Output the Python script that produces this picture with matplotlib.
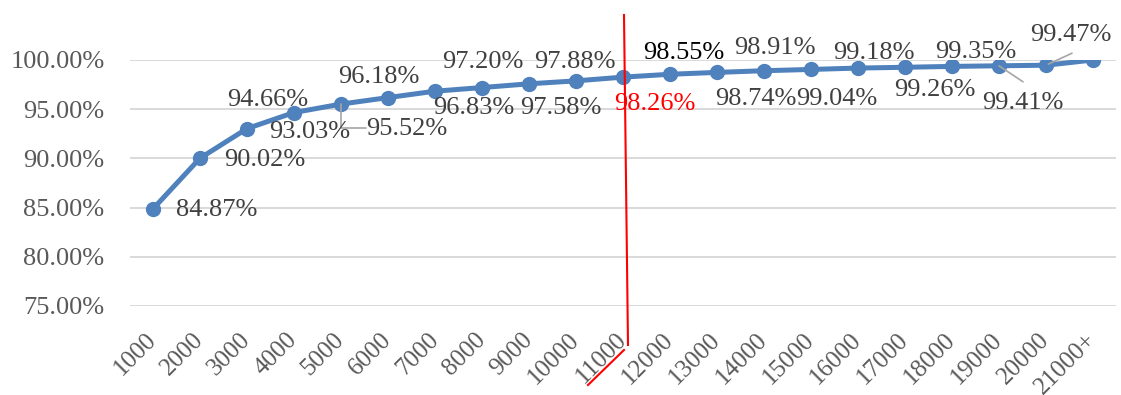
import matplotlib
matplotlib.use("Agg")
import matplotlib.pyplot as plt
from matplotlib.lines import Line2D
from matplotlib.ticker import PercentFormatter

plt.rcParams['font.family'] = ['Liberation Serif', 'DejaVu Serif']

# dados
categorias = ["1000", "2000", "3000", "4000", "5000", "6000", "7000", "8000", "9000", "10000",
              "11000", "12000", "13000", "14000", "15000", "16000", "17000", "18000", "19000",
              "20000", "21000+"]
valores = [84.87, 90.02, 93.03, 94.66, 95.52, 96.18, 96.83, 97.20, 97.58, 97.88,
           98.26, 98.55, 98.74, 98.91, 99.04, 99.18, 99.26, 99.35, 99.41, 99.47, 100.00]
rotulos = [f"{v:.2f}%" for v in valores[:-1]] + [None]

# deslocamento dos rotulos (pixels, x para direita, y para cima)
offsets = [(64, -1), (65, -2), (63, -3), (-26, 13), (66, -25), (-9, 21), (39, -17), (1, 26),
           (32, -24), (-1, 19), (32, -27), (14, 21), (39, -27), (11, 23), (26, -30), (16, 15),
           (30, -23), (24, 14), (24, -37), (25, 30), None]
cores = ["#404040"] * 21
cores[10] = "red"
cores[11] = "black"

fig = plt.figure(figsize=(11.21, 3.95), dpi=100)
ax = fig.add_axes([129.5 / 1121, 1 - 306 / 395, (1116.5 - 129.5) / 1121, 246 / 395])

x = list(range(len(categorias)))
ax.plot(x, valores, color="#4F81BD", lw=3.6, marker="o", markersize=10, zorder=3,
        solid_capstyle="round")

ax.set_xlim(-0.5, len(categorias) - 0.5)
ax.set_ylim(75, 100)
ax.set_yticks([75, 80, 85, 90, 95, 100])
ax.yaxis.set_major_formatter(PercentFormatter(decimals=2))
ax.grid(axis="y", color="#D9D9D9", lw=1.4, zorder=0)
ax.set_axisbelow(True)
for s in ax.spines.values():
    s.set_visible(False)

ax.set_xticks(x)
ax.set_xticklabels(categorias, rotation=45, ha="right", va="center", rotation_mode="anchor")
ax.tick_params(axis="x", length=0, pad=22, labelsize=18, labelcolor="#595959")
ax.tick_params(axis="y", length=0, pad=18, labelsize=19, labelcolor="#595959")

# rotulos de dados
for i, (txt, off) in enumerate(zip(rotulos, offsets)):
    if txt is None:
        continue
    ax.annotate(txt, xy=(i, valores[i]), xytext=off, textcoords="offset pixels",
                ha="center", va="center", fontsize=19, color=cores[i], zorder=4)

# linhas guia
guia = dict(arrowstyle="-", color="#A6A6A6", lw=1.2, shrinkB=0)
ax.annotate("", xy=(4, valores[4]), xytext=(25, -24), textcoords="offset pixels",
            arrowprops=dict(guia, shrinkA=0, connectionstyle="angle,angleA=0,angleB=90,rad=0"))
ax.annotate("", xy=(18, valores[18]), xytext=(24, -16), textcoords="offset pixels",
            arrowprops=dict(guia, shrinkA=0))
ax.annotate("", xy=(19, valores[19]), xytext=(26, 12), textcoords="offset pixels",
            arrowprops=dict(guia, shrinkA=0, shrinkB=2))

# marcacao vermelha
fig.add_artist(Line2D([624 / 1121, 628 / 1121], [1 - 15 / 395, 1 - 345 / 395],
                      transform=fig.transFigure, color="red", lw=1.5))
fig.add_artist(Line2D([588 / 1121, 624 / 1121], [1 - 385 / 395, 1 - 350 / 395],
                      transform=fig.transFigure, color="red", lw=1.5))

fig.savefig("out.png", dpi=100)
